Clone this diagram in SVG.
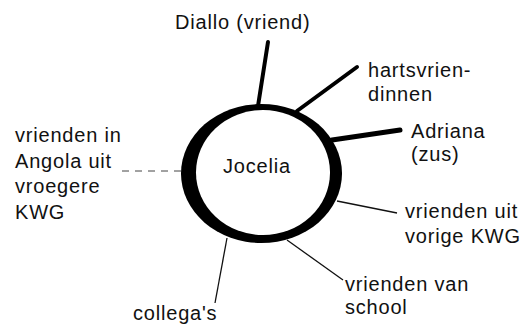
<svg xmlns="http://www.w3.org/2000/svg" width="526" height="325" viewBox="0 0 526 325">
<style>
text{font-family:"Liberation Sans",Arial,sans-serif;font-size:20px;letter-spacing:0.8px;fill:#111}
.thick{stroke:#000;stroke-linecap:round;fill:none}
.thin{stroke:#111;stroke-width:1.3;fill:none}
</style>
<rect width="526" height="325" fill="#fff"/>
<g id="connectors">
<line class="thick" x1="258" y1="106" x2="268" y2="42" stroke-width="4"/>
<line class="thick" x1="297" y1="111" x2="357" y2="67" stroke-width="4"/>
<line class="thick" x1="332" y1="140" x2="400" y2="130" stroke-width="5"/>
<line class="thin" x1="337" y1="201" x2="397" y2="213"/>
<line class="thin" x1="287" y1="240" x2="343" y2="280"/>
<line class="thin" x1="227" y1="238" x2="215" y2="303" stroke-width="1"/>
<line x1="122" y1="171" x2="182" y2="171" stroke="#444" stroke-width="1" stroke-dasharray="7 6"/>
</g>
<g id="jocelia">
<ellipse cx="261.5" cy="173.5" rx="80.5" ry="69.5" fill="#000"/>
<ellipse cx="263" cy="172.5" rx="67" ry="62.5" fill="#fff"/>
<text x="223" y="173">Jocelia</text>
</g>
<g id="diallo"><text x="175" y="29">Diallo (vriend)</text></g>
<g id="hartsvriendinnen"><text x="368" y="77">hartsvrien-</text><text x="368" y="101">dinnen</text></g>
<g id="adriana"><text x="411" y="138">Adriana</text><text x="411" y="161">(zus)</text></g>
<g id="vorige-kwg"><text x="405" y="218">vrienden uit</text><text x="405" y="243">vorige KWG</text></g>
<g id="school"><text x="345" y="291">vrienden van</text><text x="345" y="314">school</text></g>
<g id="collegas"><text x="133" y="320">collega's</text></g>
<g id="angola"><text x="15" y="142">vrienden in</text><text x="15" y="167.5">Angola uit</text><text x="15" y="193">vroegere</text><text x="15" y="218.5">KWG</text></g>
</svg>
